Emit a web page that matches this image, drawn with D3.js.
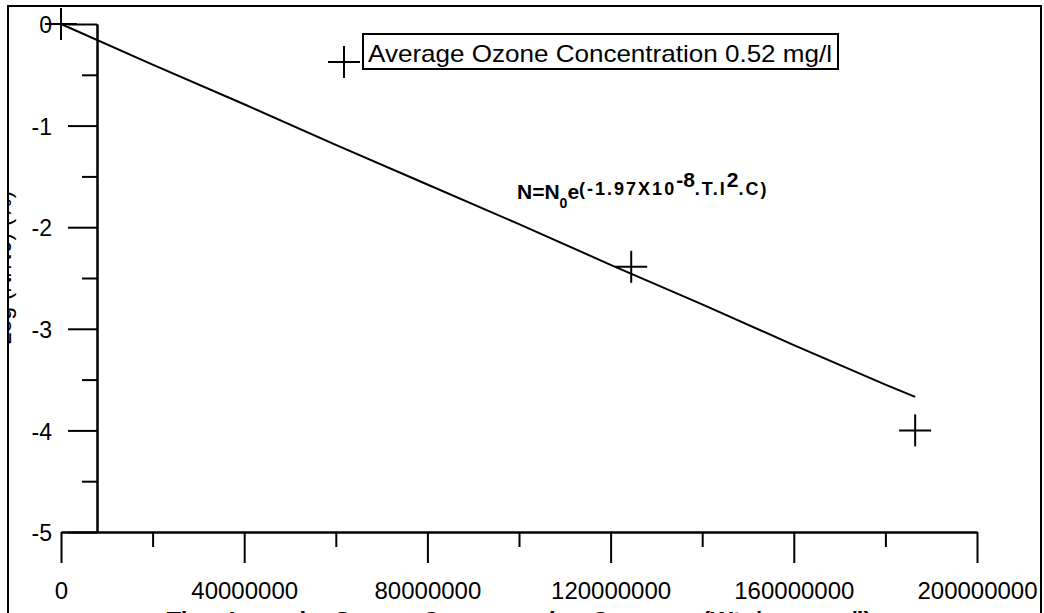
<!DOCTYPE html>
<html>
<head>
<meta charset="utf-8">
<script src="https://cdn.jsdelivr.net/npm/d3@7"></script>
<style>
  html, body { margin: 0; padding: 0; background: #fff; overflow: hidden; }
  svg { display: block; font-family: "Liberation Sans", Arial, sans-serif; }
</style>
</head>
<body>
<svg id="chart" width="1044" height="613"></svg>
<script>
// ---- data ----
const observedX = [0, 124500000, 186500000];
const observedY = [0, -2.39, -4.0];
const fitX = [0, 20000000, 40000000, 60000000, 80000000, 100000000, 120000000, 140000000, 160000000, 180000000, 186500000];
const fitY = [0, -0.40, -0.79, -1.19, -1.58, -1.97, -2.37, -2.76, -3.16, -3.55, -3.67];
const xMajorTicks = [0, 40000000, 80000000, 120000000, 160000000, 200000000];
const xMinorTicks = [20000000, 60000000, 100000000, 140000000, 180000000];
const yMajorTicks = [0, -1, -2, -3, -4, -5];
const yMinorTicks = [-0.5, -1.5, -2.5, -3.5, -4.5];
const legendLabel = "Average Ozone Concentration 0.52 mg/l";
const xTitle = "Time Intensity Square Concentration Constant (W\u00B2s/cm\u2074.mg/l)";
const yTitle = "Log (N/N0) (%)";

const svg = d3.select("#chart");
const x = d3.scaleLinear().domain([0, 200000000]).range([61, 977]);
const y = d3.scaleLinear().domain([-5, 0]).range([532, 24]);
const yAxisX = 97;

// y axis title (mostly cut by the frame, as in the original)
svg.append("text")
  .attr("transform", "translate(11,268) rotate(-90)")
  .attr("text-anchor", "middle")
  .attr("font-size", 23)
  .text(yTitle);
svg.append("rect").attr("x", 0).attr("y", 0).attr("width", 8).attr("height", 613).attr("fill", "#fff");

// outer frame
svg.append("rect")
  .attr("x", 8).attr("y", 6).attr("width", 1033).attr("height", 700)
  .attr("fill", "none").attr("stroke", "#000").attr("stroke-width", 2);

function styleAxis(g) {
  g.selectAll("path, line").attr("stroke", "#000").attr("stroke-width", 2);
  g.selectAll("text").attr("fill", "#000").attr("font-family", "Liberation Sans, Arial, sans-serif");
}
const plain = d => String(d);

// y axis
svg.append("g").attr("transform", `translate(${yAxisX},0)`)
  .call(d3.axisLeft(y).tickValues(yMinorTicks).tickSize(15).tickSizeOuter(0).tickFormat(""))
  .call(styleAxis);
svg.append("g").attr("transform", `translate(${yAxisX},0)`)
  .call(d3.axisLeft(y).tickValues(yMajorTicks).tickSize(29).tickSizeOuter(0).tickPadding(16).tickFormat(plain))
  .call(g => g.selectAll("text").attr("font-size", 23).attr("dy", "0.38em"))
  .call(styleAxis);

// x axis
svg.append("g").attr("transform", `translate(0,${y(-5)})`)
  .call(d3.axisBottom(x).tickValues(xMinorTicks).tickSize(15).tickSizeOuter(0).tickFormat(""))
  .call(styleAxis);
svg.append("g").attr("transform", `translate(0,${y(-5)})`)
  .call(d3.axisBottom(x).tickValues(xMajorTicks).tickSize(31).tickSizeOuter(0).tickPadding(19).tickFormat(plain))
  .call(g => g.selectAll("text").attr("font-size", 24))
  .call(styleAxis);

// x title (cut by bottom edge, as in the original)
svg.append("text")
  .attr("x", (x(0) + x(200000000)) / 2).attr("y", 629)
  .attr("text-anchor", "middle").attr("font-size", 24).attr("font-weight", "bold")
  .text(xTitle);

// fitted curve
const fit = fitX.map((d, i) => [d, fitY[i]]);
svg.append("path")
  .datum(fit)
  .attr("fill", "none").attr("stroke", "#000").attr("stroke-width", 2)
  .attr("d", d3.line().x(d => x(d[0])).y(d => y(d[1])));

// observed points (+)
const cross = (g, cx, cy) => {
  g.append("line").attr("x1", cx - 16).attr("x2", cx + 16).attr("y1", cy).attr("y2", cy);
  g.append("line").attr("x1", cx).attr("x2", cx).attr("y1", cy - 16).attr("y2", cy + 16);
};
const pts = svg.append("g").attr("stroke", "#000").attr("stroke-width", 2);
observedX.forEach((d, i) => cross(pts, x(d), y(observedY[i])));

// legend
const leg = svg.append("g");
cross(leg.append("g").attr("stroke", "#000").attr("stroke-width", 2), 344, 62);
leg.append("rect").attr("x", 363).attr("y", 34).attr("width", 475).attr("height", 35)
  .attr("fill", "#fff").attr("stroke", "#000").attr("stroke-width", 2);
leg.append("text").attr("x", 368).attr("y", 62).attr("font-size", 24)
  .attr("textLength", 464).attr("lengthAdjust", "spacingAndGlyphs")
  .text(legendLabel);

// equation
const eq = svg.append("text").attr("x", 517).attr("y", 199)
  .attr("font-weight", "bold").attr("fill", "#000");
eq.append("tspan").attr("font-size", 21).text("N=N");
eq.append("tspan").attr("font-size", 14).attr("dy", 9).text("0");
eq.append("tspan").attr("font-size", 21).attr("dy", -9).text("e");
eq.append("tspan").attr("font-size", 18).attr("dy", -4).attr("letter-spacing", 2).text("(-1.97X10");
eq.append("tspan").attr("font-size", 21).attr("dy", -8).text("-8");
eq.append("tspan").attr("font-size", 18).attr("dy", 8).attr("letter-spacing", 2).text(".T.I");
eq.append("tspan").attr("font-size", 21).attr("dy", -8).text("2");
eq.append("tspan").attr("font-size", 18).attr("dy", 8).attr("letter-spacing", 2).text(".C)");
</script>
</body>
</html>
